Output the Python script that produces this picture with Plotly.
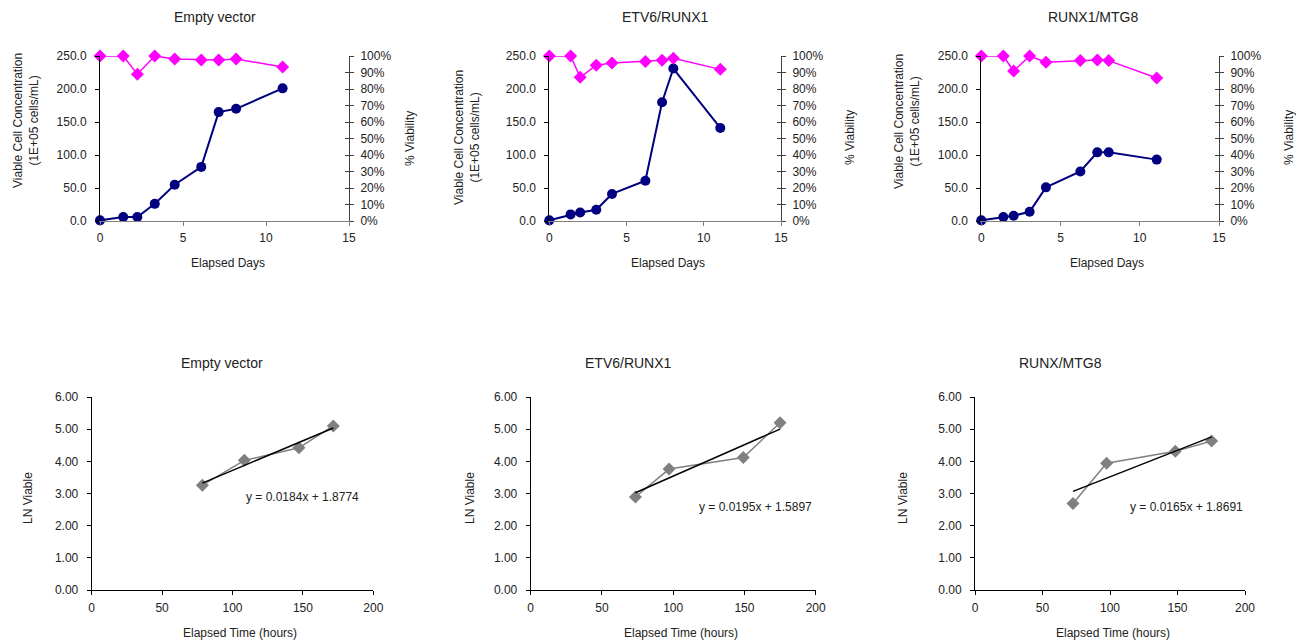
import plotly.graph_objects as go

# ---------------- data ----------------
titles_top = ["Empty vector", "ETV6/RUNX1", "RUNX1/MTG8"]
titles_bottom = ["Empty vector", "ETV6/RUNX1", "RUNX/MTG8"]

days_ev = [0, 1.4, 2.25, 3.3, 4.5, 6.1, 7.15, 8.2, 11.0]
conc_ev = [1, 6, 6, 26, 55, 82, 165, 170, 201]
via_ev = [100, 100, 89, 100, 98.2, 97.6, 97.6, 98.2, 93.3]

days_er = [0, 1.38, 2.0, 3.04, 4.06, 6.22, 7.3, 8.03, 11.07]
conc_er = [1, 10, 13, 17, 41, 61, 180, 231, 141]
via_er = [100, 100, 87.1, 94.4, 95.8, 96.6, 97.4, 98.6, 91.9]

days_rm = [0, 1.39, 2.04, 3.05, 4.08, 6.25, 7.32, 8.04, 11.07]
conc_rm = [1, 6, 8, 14, 51, 75, 104, 104, 93]
via_rm = [100, 100, 90.9, 100, 96.2, 97.2, 97.6, 97.2, 86.7]

hours_ev = [78.6, 108.4, 147.2, 171.6]
ln_ev = [3.26, 4.03, 4.42, 5.10]
hours_er = [73.5, 97.1, 149.2, 175.0]
ln_er = [2.89, 3.76, 4.12, 5.20]
hours_rm = [72.6, 97.5, 148.4, 175.3]
ln_rm = [2.69, 3.94, 4.31, 4.63]

slopes = [0.0184, 0.0195, 0.0165]
intercepts = [1.8774, 1.5897, 1.8691]
equations = ["y = 0.0184x + 1.8774", "y = 0.0195x + 1.5897", "y = 0.0165x + 1.8691"]

top_days = [days_ev, days_er, days_rm]
top_conc = [conc_ev, conc_er, conc_rm]
top_via = [via_ev, via_er, via_rm]
bot_hours = [hours_ev, hours_er, hours_rm]
bot_ln = [ln_ev, ln_er, ln_rm]

# ---------------- layout geometry (page pixels) ----------------
OFF = 8  # default page body margin
W, H = 1304 - OFF, 643 - OFF
top_x_px = [(100, 349), (549.3, 781), (981.3, 1219)]
top_y_px = (56, 221)
bot_x_px = [(91.7, 373.3), (530.7, 815.7), (975, 1245)]
bot_y_px = (397, 590)

def px(x):
    return (x - OFF) / W

def py(y):
    return 1 - (y - OFF) / H

NAVY = "#000080"
MAGENTA = "#FF00FF"
GRAY = "#808080"
TXT = "#222222"
FONT = "Liberation Sans, Arial, sans-serif"

def an(n, kind):
    return kind if n == 1 else f"{kind}{n}"

fig = go.Figure()
layout = {}
annotations = []

tickfont = dict(family=FONT, size=12, color=TXT)

for i in range(3):
    xi = i + 1
    yl, yr, yc = 3 * i + 1, 3 * i + 2, 3 * i + 3
    xn, yln, yrn, ycn = an(xi, "x"), an(yl, "y"), an(yr, "y"), an(yc, "y")

    fig.add_trace(go.Scatter(x=top_days[i], y=top_conc[i], xaxis=xn, yaxis=yln,
                             mode="lines+markers", cliponaxis=False,
                             line=dict(color=NAVY, width=2),
                             marker=dict(symbol="circle", size=10, color=NAVY),
                             showlegend=False))
    fig.add_trace(go.Scatter(x=top_days[i], y=top_via[i], xaxis=xn, yaxis=yrn,
                             mode="lines+markers", cliponaxis=False,
                             line=dict(color=MAGENTA, width=1.5),
                             marker=dict(symbol="diamond", size=10, color=MAGENTA),
                             showlegend=False))
    fig.add_trace(go.Scatter(x=[], y=[], xaxis=xn, yaxis=ycn, showlegend=False,
                             hoverinfo="skip"))

    x0, x1 = top_x_px[i]
    layout[an(xi, "xaxis")] = dict(
        domain=[px(x0), px(x1)], anchor=yln, range=[0, 15], dtick=5, tick0=0,
        showline=True, linecolor=GRAY, linewidth=1, ticks="outside", ticklen=4,
        tickcolor=GRAY, showgrid=False, zeroline=False, tickfont=tickfont,
        ticklabelstandoff=2)
    layout[an(yl, "yaxis")] = dict(
        domain=[py(top_y_px[1]), py(top_y_px[0])], anchor=xn, range=[0, 250],
        dtick=50, tick0=0, tickformat=".1f", showline=True, linecolor="#000000",
        linewidth=1, ticks="outside", ticklen=4, tickcolor="#000000",
        showgrid=False, zeroline=False, tickfont=tickfont, ticklabelstandoff=6)
    layout[an(yr, "yaxis")] = dict(
        overlaying=yln, side="right", anchor=xn, range=[0, 100], dtick=10,
        tick0=0, ticksuffix="%", showline=True, linecolor="#404040",
        linewidth=1, ticks="outside", ticklen=4, tickcolor="#404040",
        showgrid=False, zeroline=False, tickfont=tickfont, ticklabelstandoff=4)
    layout[an(yc, "yaxis")] = dict(
        overlaying=yln, side="right", anchor=xn, range=[0, 100], dtick=10,
        tick0=0, showticklabels=False, showline=False, ticks="inside",
        ticklen=4, tickcolor="#404040", showgrid=False, zeroline=False)

for i in range(3):
    xi = 4 + i
    yi = 10 + i
    xn, yn = an(xi, "x"), an(yi, "y")
    fig.add_trace(go.Scatter(x=bot_hours[i], y=bot_ln[i], xaxis=xn, yaxis=yn,
                             mode="lines+markers", cliponaxis=False,
                             line=dict(color=GRAY, width=1.5),
                             marker=dict(symbol="diamond", size=10, color=GRAY),
                             showlegend=False))
    hx = [min(bot_hours[i]), max(bot_hours[i])]
    hy = [slopes[i] * h + intercepts[i] for h in hx]
    fig.add_trace(go.Scatter(x=hx, y=hy, xaxis=xn, yaxis=yn, mode="lines",
                             line=dict(color="#000000", width=1.5),
                             showlegend=False))
    x0, x1 = bot_x_px[i]
    layout[an(xi, "xaxis")] = dict(
        domain=[px(x0), px(x1)], anchor=yn, range=[0, 200], dtick=50, tick0=0,
        showline=True, linecolor="#000000", linewidth=1, ticks="outside",
        ticklen=4, tickcolor="#000000", showgrid=False, zeroline=False,
        tickfont=tickfont, ticklabelstandoff=3)
    layout[an(yi, "yaxis")] = dict(
        domain=[py(bot_y_px[1]), py(bot_y_px[0])], anchor=xn, range=[0, 6],
        dtick=1, tick0=0, tickformat=".2f", showline=True, linecolor="#000000",
        linewidth=1, ticks="outside", ticklen=4, tickcolor="#000000",
        showgrid=False, zeroline=False, tickfont=tickfont, ticklabelstandoff=6)

def add_text(text, x, y, size=12, angle=0, xanchor="center"):
    annotations.append(dict(text=text, x=px(x), y=py(y), xref="paper", yref="paper",
                            showarrow=False, textangle=angle, xanchor=xanchor,
                            yanchor="middle",
                            font=dict(family=FONT, size=size, color=TXT)))

# top titles / axis titles
top_title_pos = [(215, 16.5), (665, 16.5), (1093, 16.5)]
for i in range(3):
    add_text(titles_top[i], *top_title_pos[i], size=14)
days_pos = [(228, 263), (668, 263), (1107, 263)]
for p in days_pos:
    add_text("Elapsed Days", *p)
conc_pos = [(26, 121), (467, 138), (907, 122)]
for p in conc_pos:
    add_text("Viable Cell Concentration<br>(1E+05 cells/mL)", *p, angle=-90)
via_pos = [(410, 139), (850, 138), (1289, 138)]
for p in via_pos:
    add_text("% Viability", *p, angle=-90)

# bottom
bot_title_pos = [(222, 363), (628, 363), (1060, 363)]
for i in range(3):
    add_text(titles_bottom[i], *bot_title_pos[i], size=14)
hours_pos = [(240, 633), (681, 633), (1113, 633)]
for p in hours_pos:
    add_text("Elapsed Time (hours)", *p)
ln_pos = [(28, 498), (470, 498), (903, 498)]
for p in ln_pos:
    add_text("LN Viable", *p, angle=-90)
eq_pos = [(244, 497), (697, 507), (1128, 507)]
for i in range(3):
    add_text(equations[i], *eq_pos[i], xanchor="left")

fig.update_layout(
    width=W, height=H, margin=dict(l=0, r=0, t=0, b=0),
    paper_bgcolor="white", plot_bgcolor="white", template="none",
    showlegend=False, annotations=annotations, **layout)

fig.write_html("out.html")
